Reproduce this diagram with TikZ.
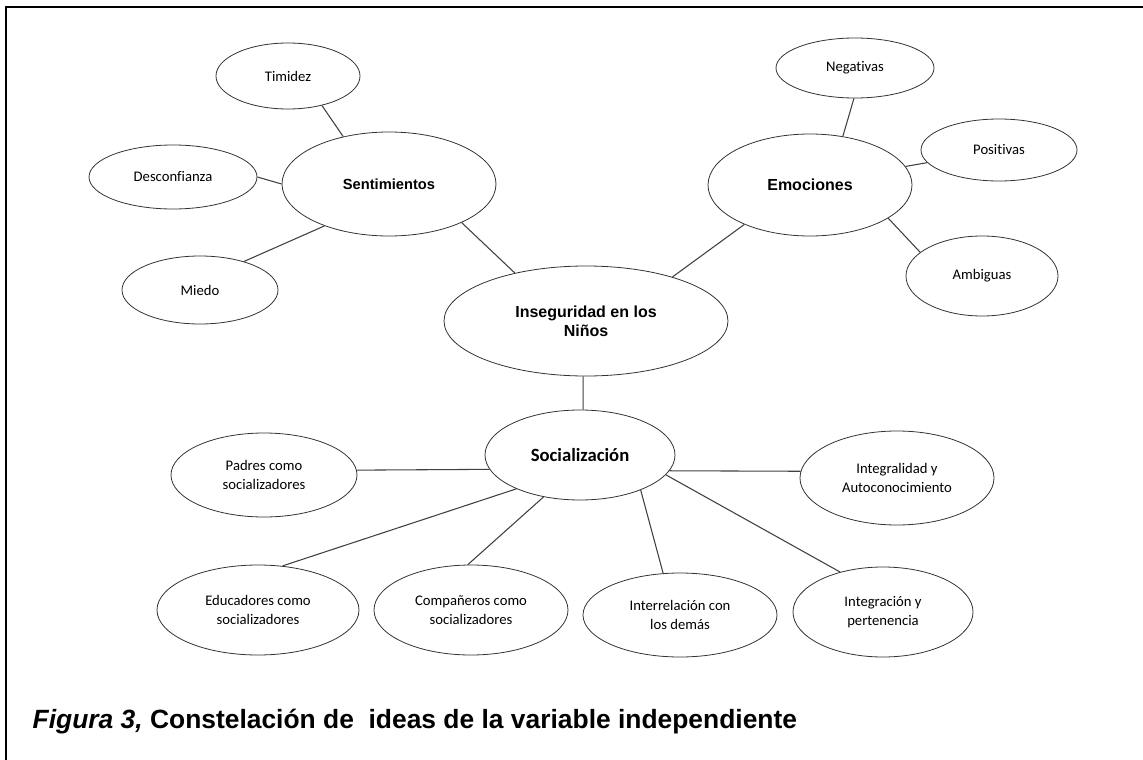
\documentclass[tikz,border=0pt]{standalone}
\usepackage{fontspec}
\setmainfont{Liberation Sans}
\newfontfamily\calibri[Ligatures=NoCommon]{Carlito}
\usetikzlibrary{shapes.geometric}

\tikzset{
	idea/.style 2 args={ellipse, draw=black!80, line width=0.6pt, inner sep=0pt, align=center,
		minimum width=#1*0.75pt, minimum height=#2*0.75pt},
	leaf/.style={font=\calibri\fontsize{11}{14.5}\selectfont},
	hub/.style={font=\bfseries\fontsize{12}{14}\selectfont},
	link/.style={draw=black!75, line width=0.8pt}
}

\begin{document}
\begin{tikzpicture}[x=0.75pt, y=-0.75pt]
	
	\useasboundingbox (0,0) rectangle (1143,760);
	\draw[line width=1.5pt] (6,760) -- (6,7) -- (1143,7);
	
	\node[idea={284}{110}, hub] (ins) at (586,321) {Inseguridad en los\\Niños};
	
	\node[idea={214}{104}, hub, font=\bfseries\fontsize{11}{13}\selectfont] (sent) at (389,184) {Sentimientos};
	\node[idea={144}{66}, leaf] (tim) at (288,76) {Timidez};
	\node[idea={168}{64}, leaf] (desc) at (173,177) {Desconfianza};
	\node[idea={156}{68}, leaf] (miedo) at (200,290) {Miedo};
	
	\node[idea={204}{102}, hub] (emo) at (810,185) {Emociones};
	\node[idea={158}{60}, leaf] (neg) at (855,68) {Negativas};
	\node[idea={156}{62}, leaf] (pos) at (999,150) {Positivas};
	\node[idea={152}{80}, leaf] (amb) at (982,276) {Ambiguas};
	
	\node[idea={190}{90}, font=\calibri\bfseries\fontsize{14}{16}\selectfont] (soc) at (580,455) {Socialización};
	\node[idea={186}{84}, leaf] (padres) at (264,475) {Padres como\\socializadores};
	\node[idea={194}{94}, leaf] (integra) at (897,478) {Integralidad y\\Autoconocimiento};
	\node[idea={202}{90}, leaf] (educ) at (258,610) {Educadores como\\socializadores};
	\node[idea={194}{90}, leaf] (comp) at (471,610) {Compañeros como\\socializadores};
	\node[idea={194}{84}, leaf] (inter) at (680,615) {Interrelación con\\los demás};
	\node[idea={180}{90}, leaf] (integr) at (883,612) {Integración y\\pertenencia};
	
	\draw[link] (tim.-41) -- (sent.134);
	\draw[link] (desc.0) -- (sent.180);
	\draw[link] (miedo.33) -- (sent.213);
	\draw[link] (sent.-28) -- (ins.146);
	
	\draw[link] (neg.-92) -- (emo.56);
	\draw[link] (pos.190) -- (emo.11);
	\draw[link] (emo.-23) -- (amb.159);
	\draw[link] (emo.211) -- (ins.27);
	
	\draw[link] (ins.-93) -- (soc.86);
	\draw[link] (padres.3) -- (soc.189);
	\draw[link] (soc.-10) -- (integra.176);
	\draw[link] (soc.208) -- (educ.61);
	\draw[link] (soc.229) -- (comp.94);
	\draw[link] (soc.-30) -- (inter.112);
	\draw[link] (soc.-13) -- (integr.137);
	
	\node[anchor=west, font=\bfseries\fontsize{19.8}{22}\selectfont] (cap) at (28,722)
		{\textit{Figura 3,} Constelación de\ \ ideas de la variable independiente};
	
\end{tikzpicture}
\end{document}
